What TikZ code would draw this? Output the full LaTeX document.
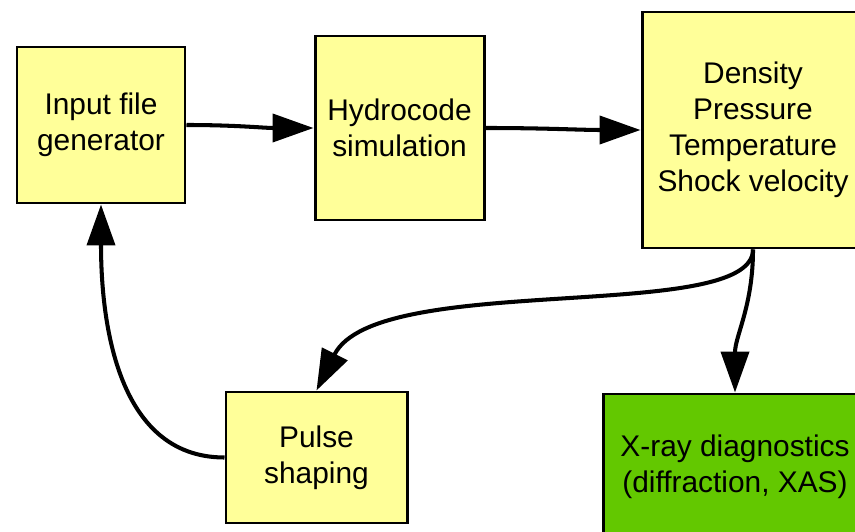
\documentclass[tikz,border=0pt]{standalone}
\usepackage{fontspec}
\setmainfont{Liberation Sans}
\usetikzlibrary{arrows.meta}
\definecolor{boxyellow}{RGB}{255,255,153}
\definecolor{boxgreen}{RGB}{99,200,0}

\begin{document}
\begin{tikzpicture}[box/.style = {draw, line width=1.7pt, fill=boxyellow, align=center, inner sep=0pt, font=\fontsize{17}{20.4}\selectfont}, flow/.style = {line width=2.3pt, -{Triangle[length=0.82cm,width=0.56cm]}}]
\useasboundingbox (0,0) rectangle (17.1,10.62);
\node[box, minimum width=3.36cm, minimum height=3.12cm](inp) at (2.02,8.12) {Input file\\generator};
\node[box, minimum width=3.38cm, minimum height=3.68cm](hyd) at (7.99,8.06) {Hydrocode\\simulation};
\node[box, minimum width=4.44cm, minimum height=4.72cm](state) at (15.06,8.02) {Density\\Pressure\\Temperature\\Shock velocity};
\node[box, minimum width=3.62cm, minimum height=2.62cm](pulse) at (6.33,1.47) {Pulse\\shaping};
\node[box, fill=boxgreen, minimum width=5.28cm, minimum height=2.92cm](xray) at (14.7,1.28) {X-ray diagnostics\\(diffraction, XAS)};
\draw[flow] (inp.east) to[out=0,in=180] (hyd.west); \draw[flow] (hyd.east) to[out=0,in=180] (state.west);
\draw[flow] (state.south) .. controls +(0,-1.5) and +(1.2,2.4) .. (pulse.north); \draw[flow] (state.south) to[out=-90,in=90] (xray.north);
\draw[flow] (pulse.west) to[out=180,in=-90] (inp.south);
\end{tikzpicture}
\end{document}
